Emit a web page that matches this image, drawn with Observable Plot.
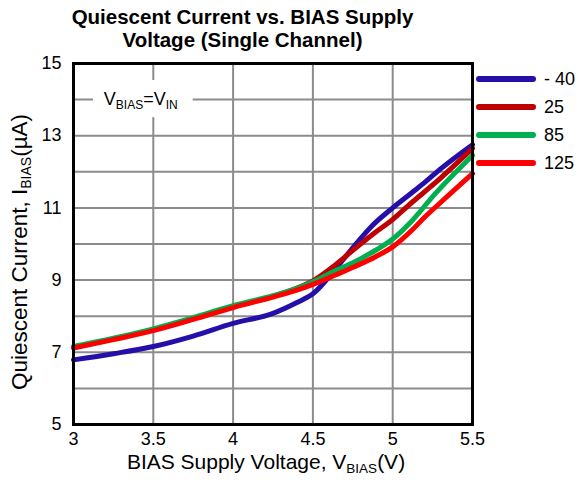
<!DOCTYPE html>
<html><head><meta charset="utf-8">
<script src="https://cdn.jsdelivr.net/npm/d3@7"></script>
<script src="https://cdn.jsdelivr.net/npm/@observablehq/plot@0.6"></script>
<style>
body{margin:0;background:#fff;font-family:"Liberation Sans",Arial,sans-serif;}
#wrap{position:relative;width:585px;height:483px;overflow:hidden;}
#title{position:absolute;left:0;top:5px;width:485px;text-align:center;font-weight:bold;font-size:20.5px;line-height:23px;color:#000;z-index:2;}
#chart{position:absolute;left:0;top:45px;z-index:1;}
#legend{position:absolute;left:475px;top:65px;z-index:3;}
.item{display:flex;align-items:center;height:28px;font-size:18px;color:#000;}
.item svg{margin-right:7px;}
</style></head>
<body>
<div id="wrap">
  <div id="title">Quiescent Current vs. BIAS Supply<br>Voltage (Single Channel)</div>
  <div id="chart"></div>
  <div id="legend"></div>
</div>
<script>
// Series (temperature, °C)
const seriesNames = ["- 40", "25", "85", "125"];
const seriesColors = ["#2410a8", "#c00000", "#00b050", "#ff0000"];

// -40 °C
const vM40 = [3, 3.25, 3.5, 3.75, 4, 4.25, 4.4, 4.5, 4.64, 4.76, 4.87, 5, 5.12, 5.21, 5.3, 5.5];
const iM40 = [6.79, 6.96, 7.16, 7.45, 7.80, 8.08, 8.38, 8.62, 9.3, 9.95, 10.5, 11.0, 11.42, 11.74, 12.08, 12.75];
// 25 °C
const v25 = [3, 3.25, 3.5, 3.75, 4, 4.25, 4.4, 4.5, 4.64, 4.76, 4.89, 5, 5.12, 5.26, 5.5];
const i25 = [7.14, 7.37, 7.62, 7.93, 8.26, 8.55, 8.78, 8.98, 9.42, 9.86, 10.32, 10.68, 11.15, 11.67, 12.65];
// 85 °C
const v85 = [3, 3.25, 3.5, 3.75, 4, 4.25, 4.4, 4.5, 4.64, 4.76, 4.89, 5, 5.12, 5.26, 5.5];
const i85 = [7.16, 7.39, 7.65, 7.96, 8.29, 8.57, 8.77, 8.95, 9.26, 9.5, 9.82, 10.14, 10.64, 11.36, 12.45];
// 125 °C
const v125 = [3, 3.25, 3.5, 3.75, 4, 4.25, 4.4, 4.5, 4.64, 4.76, 4.89, 5, 5.12, 5.2, 5.3, 5.5];
const i125 = [7.12, 7.35, 7.6, 7.91, 8.24, 8.53, 8.72, 8.88, 9.14, 9.37, 9.64, 9.92, 10.38, 10.74, 11.15, 11.95];

const xTicks = [3, 3.5, 4, 4.5, 5, 5.5];
const yTicks = [5, 7, 9, 11, 13, 15];
const xGrid = [3.5, 4, 4.5, 5];
const yGrid = [6, 7, 8, 9, 10, 11, 12, 13, 14];

const xs = [vM40, v25, v85, v125];
const ys = [iM40, i25, i85, i125];
const rows = [];
seriesNames.forEach((s, k) => xs[k].forEach((v, j) => rows.push({series: s, v, i: ys[k][j]})));

const note = [{x1: 3.125, x2: 3.75, y1: 13.5, y2: 14.53, tx: 3.19, ty: 14, label: "VBIAS=VIN"}];

const chart = Plot.plot({
  width: 585,
  height: 438,
  marginLeft: 73,
  marginRight: 113,
  marginTop: 18,
  marginBottom: 59,
  style: {fontFamily: "'Liberation Sans', Arial, sans-serif", fontSize: "18px", color: "#000", background: "transparent", overflow: "visible"},
  x: {domain: [3, 5.5]},
  y: {domain: [5, 15]},
  color: {domain: seriesNames, range: seriesColors},
  marks: [
    Plot.gridX(xGrid, {stroke: "#8c8c8c", strokeOpacity: 1, strokeWidth: 2}),
    Plot.gridY(yGrid, {stroke: "#8c8c8c", strokeOpacity: 1, strokeWidth: 2}),
    Plot.rect(note, {x1: "x1", x2: "x2", y1: "y1", y2: "y2", fill: "white"}),
    Plot.text(note, {x: "tx", y: "ty", text: "label", textAnchor: "start", fontSize: 18}),
    Plot.line(rows, {x: "v", y: "i", z: "series", stroke: "series", strokeWidth: 5, curve: "monotone-x"}),
    Plot.frame({stroke: "black", strokeWidth: 3}),
    Plot.axisX({ticks: xTicks, tickSize: 0, tickPadding: 8, fontSize: 18, tickFormat: d => String(d), label: "BIAS Supply Voltage, VBIAS(V)", labelAnchor: "center", labelArrow: "none", labelOffset: 44}),
    Plot.axisY({ticks: yTicks, tickSize: 0, tickPadding: 12, fontSize: 18, label: "Quiescent Current, IBIAS(µA)", labelAnchor: "center", labelArrow: "none", labelOffset: 59})
  ]
});
document.getElementById("chart").appendChild(chart);

function setParts(el, parts, mainSize, subSize) {
  const t = d3.select(el);
  t.text(null);
  let shifted = false;
  parts.forEach(([txt, sub]) => {
    const ts = t.append("tspan").text(txt).attr("font-size", sub ? subSize : mainSize);
    if (sub && !shifted) { ts.attr("dy", 4); shifted = true; }
    else if (!sub && shifted) { ts.attr("dy", -4); shifted = false; }
  });
}
const svg = d3.select(chart);
svg.selectAll('g[aria-label="x-axis label"] text').each(function() {
  setParts(this, [["BIAS Supply Voltage, V", false], ["BIAS", true], ["(V)", false]], 21, 13.5);
  d3.select(this).attr("dx", -7);
});
svg.selectAll('g[aria-label="y-axis label"] text').each(function() {
  setParts(this, [["Quiescent Current, I", false], ["BIAS", true], ["(µA)", false]], 22.5, 14);
  d3.select(this).attr("dx", -8);
});
svg.selectAll("text").filter(function() { return this.textContent === "VBIAS=VIN"; }).each(function() {
  setParts(this, [["V", false], ["BIAS", true], ["=V", false], ["IN", true]], 18, 12);
});

// Legend
const leg = d3.select("#legend");
seriesNames.forEach((s, k) => {
  const it = leg.append("div").attr("class", "item");
  const sw = it.append("svg").attr("width", 62).attr("height", 10);
  sw.append("line").attr("x1", 4).attr("x2", 58).attr("y1", 5).attr("y2", 5)
    .attr("stroke", seriesColors[k]).attr("stroke-width", 6).attr("stroke-linecap", "round");
  it.append("span").text(s);
});
</script>
</body></html>
